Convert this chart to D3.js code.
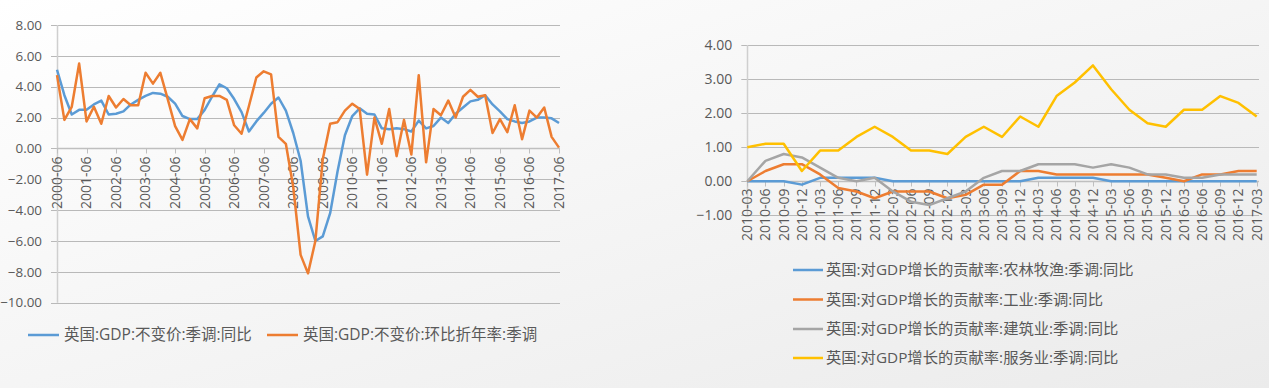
<!DOCTYPE html>
<html>
<head>
  <meta charset="utf-8" />
  <title>UK GDP</title>
  <style>
    body { margin: 0; background: #f7f7f7; }
    svg { display: block; }
    text { font-family: "Open Sans", "Noto Sans CJK SC", sans-serif; fill: #595959; }
  </style>
</head>
<body>
  <svg id="chart" width="1269" height="388"></svg>

  <script src="https://cdn.jsdelivr.net/npm/d3@7"></script>
  <script>

    // left chart: quarterly 2000-06 .. 2017-06
    var leftYears = [2000, 2001, 2002, 2003, 2004, 2005, 2006, 2007, 2008,
                     2009, 2010, 2011, 2012, 2013, 2014, 2015, 2016, 2017]
    var quarterMonths = ['03', '06', '09', '12']
    var leftTickLabels = ['2000-06', '2001-06', '2002-06', '2003-06', '2004-06', '2005-06',
                          '2006-06', '2007-06', '2008-06', '2009-06', '2010-06', '2011-06',
                          '2012-06', '2013-06', '2014-06', '2015-06', '2016-06', '2017-06']
    var leftYTicks = [-10, -8, -6, -4, -2, 0, 2, 4, 6, 8]

    var gdpYoY = [5.1, 3.45, 2.2, 2.5, 2.5, 2.85, 3.1, 2.2, 2.25, 2.4, 2.85, 3.15,
                  3.4, 3.6, 3.55, 3.35, 2.9, 2.1, 1.9, 1.9, 2.5, 3.35, 4.15, 3.9,
                  3.2, 2.35, 1.1, 1.75, 2.3, 2.9, 3.3, 2.45, 1.0, -0.8, -4.4, -6.0,
                  -5.7, -4.2, -1.5, 0.85, 2.1, 2.6, 2.25, 2.2, 1.3, 1.25, 1.3, 1.25,
                  1.1, 1.8, 1.3, 1.45, 2.0, 1.65, 2.25, 2.65, 3.05, 3.15, 3.45, 2.85,
                  2.4, 1.9, 1.75, 1.65, 1.75, 2.0, 2.0, 1.95, 1.65]
    var gdpQoQAnn = [4.75, 1.85, 2.7, 5.5, 1.75, 2.7, 1.6, 3.4, 2.65, 3.2, 2.8, 2.8,
                     4.9, 4.2, 4.9, 3.2, 1.45, 0.55, 1.9, 1.3, 3.25, 3.4, 3.4, 3.15,
                     1.5, 0.95, 2.75, 4.6, 5.0, 4.8, 0.75, 0.3, -2.5, -6.9, -8.1, -6.0,
                     -0.7, 1.6, 1.7, 2.45, 2.9, 2.55, -1.7, 2.0, 0.3, 2.55, -0.5, 1.85,
                     -0.4, 4.75, -0.9, 2.55, 2.15, 3.1, 2.0, 3.35, 3.8, 3.35, 3.45, 1.0,
                     1.9, 1.05, 2.8, 0.6, 2.45, 2.0, 2.65, 0.75, 0.05]
    var leftNames = ['英国:GDP:不变价:季调:同比', '英国:GDP:不变价:环比折年率:季调']

    // right chart: quarterly 2010-03 .. 2017-03
    var rightDates = ['2010-03', '2010-06', '2010-09', '2010-12', '2011-03', '2011-06', '2011-09',
                      '2011-12', '2012-03', '2012-06', '2012-09', '2012-12', '2013-03', '2013-06',
                      '2013-09', '2013-12', '2014-03', '2014-06', '2014-09', '2014-12', '2015-03',
                      '2015-06', '2015-09', '2015-12', '2016-03', '2016-06', '2016-09', '2016-12',
                      '2017-03']
    var rightYTicks = [-1, 0, 1, 2, 3, 4]
    var agri = [0, 0, 0, -0.1, 0.1, 0.1, 0.1, 0.1, 0, 0, 0, 0, 0, 0, 0, 0,
                0.1, 0.1, 0.1, 0.1, 0, 0, 0, 0, 0, 0, 0, 0, 0]
    var industry = [0, 0.3, 0.5, 0.5, 0.2, -0.2, -0.3, -0.5, -0.3, -0.3, -0.3, -0.5, -0.4, -0.1,
                    -0.1, 0.3, 0.3, 0.2, 0.2, 0.2, 0.2, 0.2, 0.2, 0.1, 0, 0.2, 0.2, 0.3, 0.3]
    var construction = [0, 0.6, 0.8, 0.7, 0.4, 0.1, 0, 0.1, -0.3, -0.6, -0.7, -0.5, -0.3, 0.1,
                        0.3, 0.3, 0.5, 0.5, 0.5, 0.4, 0.5, 0.4, 0.2, 0.2, 0.1, 0.1, 0.2, 0.2, 0.2]
    var services = [1.0, 1.1, 1.1, 0.3, 0.9, 0.9, 1.3, 1.6, 1.3, 0.9, 0.9, 0.8, 1.3, 1.6,
                    1.3, 1.9, 1.6, 2.5, 2.9, 3.4, 2.7, 2.1, 1.7, 1.6, 2.1, 2.1, 2.5, 2.3, 1.9]
    var rightNames = ['英国:对GDP增长的贡献率:农林牧渔:季调:同比',
                      '英国:对GDP增长的贡献率:工业:季调:同比',
                      '英国:对GDP增长的贡献率:建筑业:季调:同比',
                      '英国:对GDP增长的贡献率:服务业:季调:同比']

    var colors = ['#5b9bd5', '#ed7d31', '#a5a5a5', '#ffc000']

    var leftDates = []
    leftYears.forEach(function (yr) {
      quarterMonths.forEach(function (m) {
        var key = yr + '-' + m
        if (key >= '2000-06' && key <= '2017-06') leftDates.push(key)
      })
    })

    var svg = d3.select('#chart')

    // slide background
    var defs = svg.append('defs')
    var grad = defs.append('linearGradient').attr('id', 'bg')
      .attr('x1', '0%').attr('y1', '0%').attr('x2', '100%').attr('y2', '100%')
    grad.append('stop').attr('offset', '0%').attr('stop-color', '#ffffff')
    grad.append('stop').attr('offset', '100%').attr('stop-color', '#ebebeb')
    svg.append('rect').attr('width', 1269).attr('height', 388).attr('fill', 'url(#bg)')

    function drawChart(opt) {
      var g = svg.append('g')
      var x = d3.scalePoint().domain(opt.dates).range(opt.xRange)
      var y = d3.scaleLinear().domain(opt.yDomain).range(opt.yRange)

      // gridlines + y labels
      g.selectAll('.grid').data(opt.yTicks).enter().append('line')
        .attr('x1', opt.xRange[0] - 6).attr('x2', opt.gridEnd)
        .attr('y1', function (d) { return Math.round(y(d)) + 0.5 })
        .attr('y2', function (d) { return Math.round(y(d)) + 0.5 })
        .attr('stroke', '#b9b9b9').attr('stroke-width', 1)

      g.selectAll('.ylab').data(opt.yTicks).enter().append('text')
        .attr('x', opt.xRange[0] - 15)
        .attr('y', function (d) { return y(d) })
        .attr('dy', '0.35em')
        .attr('text-anchor', 'end')
        .style('font-size', opt.yFontSize + 'px')
        .text(function (d) { return d3.format('.2f')(d) })

      // value axis line
      g.append('line')
        .attr('x1', Math.round(opt.xRange[0]) + 0.5).attr('x2', Math.round(opt.xRange[0]) + 0.5)
        .attr('y1', y(opt.yDomain[1])).attr('y2', y(opt.yDomain[0]))
        .attr('stroke', '#cfcfcf').attr('stroke-width', 1.5)

      // category axis at zero
      var y0 = Math.round(y(0)) + 0.5
      g.append('line')
        .attr('x1', opt.xRange[0]).attr('x2', opt.gridEnd)
        .attr('y1', y0).attr('y2', y0)
        .attr('stroke', '#bfbfbf').attr('stroke-width', 1.5)

      g.selectAll('.xtick').data(opt.tickLabels).enter().append('line')
        .attr('x1', function (d) { return Math.round(x(d)) + 0.5 })
        .attr('x2', function (d) { return Math.round(x(d)) + 0.5 })
        .attr('y1', y0).attr('y2', y0 + 5)
        .attr('stroke', '#bfbfbf')

      g.selectAll('.xlab').data(opt.tickLabels).enter().append('text')
        .attr('transform', function (d) {
          return 'translate(' + x(d) + ',' + (y0 + opt.labelGap) + ') rotate(-90)'
        })
        .attr('dy', '0.35em')
        .attr('text-anchor', 'end')
        .style('font-size', opt.fontSize + 'px')
        .text(function (d) { return d })

      // series lines
      var line = d3.line()
        .x(function (d, i) { return x(opt.dates[i]) })
        .y(function (d) { return y(d) })

      opt.series.forEach(function (s, k) {
        g.append('path')
          .attr('d', line(s))
          .attr('fill', 'none')
          .attr('stroke', opt.colors[k])
          .attr('stroke-width', opt.lineWidth)
          .attr('stroke-linejoin', 'round')
      })
    }

    drawChart({
      dates: leftDates,
      tickLabels: leftTickLabels,
      xRange: [57, 559],
      gridEnd: 560,
      yDomain: [-10, 8],
      yRange: [302.7, 25],
      yTicks: leftYTicks,
      series: [gdpYoY, gdpQoQAnn],
      colors: colors,
      lineWidth: 2.5,
      fontSize: 14,
      yFontSize: 13.4,
      labelGap: 8
    })

    drawChart({
      dates: rightDates,
      tickLabels: rightDates,
      xRange: [747.3, 1256.7],
      gridEnd: 1259,
      yDomain: [-1, 4],
      yRange: [215.3, 45],
      yTicks: rightYTicks,
      series: [agri, industry, construction, services],
      colors: colors,
      lineWidth: 2.5,
      fontSize: 14,
      yFontSize: 14,
      labelGap: 7
    })

    // legends
    var leftLeg = svg.append('g')
    var leftLegX = [28, 267]
    leftNames.forEach(function (name, k) {
      leftLeg.append('line')
        .attr('x1', leftLegX[k]).attr('x2', leftLegX[k] + 31)
        .attr('y1', 335).attr('y2', 335)
        .attr('stroke', colors[k]).attr('stroke-width', 2.5)
      leftLeg.append('text')
        .attr('x', leftLegX[k] + 36).attr('y', 335).attr('dy', '0.35em')
        .style('font-size', '15.5px')
        .text(name)
    })

    var rightLeg = svg.append('g')
    var rightLegY = [270, 299.5, 329, 358]
    rightNames.forEach(function (name, k) {
      rightLeg.append('line')
        .attr('x1', 793).attr('x2', 823)
        .attr('y1', rightLegY[k]).attr('y2', rightLegY[k])
        .attr('stroke', colors[k]).attr('stroke-width', 2.5)
      rightLeg.append('text')
        .attr('x', 826).attr('y', rightLegY[k]).attr('dy', '0.35em')
        .style('font-size', '15.3px')
        .text(name)
    })

  </script>
</body>
</html>
